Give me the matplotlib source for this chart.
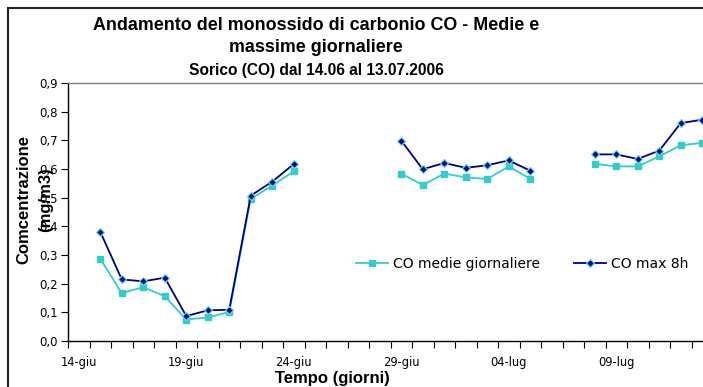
import numpy as np
import matplotlib
matplotlib.use("Agg")
import matplotlib.pyplot as plt
from matplotlib.patches import Rectangle

# Days from 14-giu to 13-lug 2006
days = ["14-giu", "15-giu", "16-giu", "17-giu", "18-giu", "19-giu", "20-giu",
        "21-giu", "22-giu", "23-giu", "24-giu", "25-giu", "26-giu", "27-giu",
        "28-giu", "29-giu", "30-giu", "01-lug", "02-lug", "03-lug", "04-lug",
        "05-lug", "06-lug", "07-lug", "08-lug", "09-lug", "10-lug", "11-lug",
        "12-lug", "13-lug"]
tick_labels = ["14-giu", "19-giu", "24-giu", "29-giu", "04-lug", "09-lug"]

nan = np.nan
co_medie = [nan, 0.287, 0.167, 0.188, 0.156, 0.075, 0.082, 0.101, 0.496, 0.542,
            0.592, nan, nan, nan, nan, 0.584, 0.544, 0.584, 0.571, 0.565,
            0.609, 0.566, nan, nan, 0.618, 0.609, 0.609, 0.644, 0.683, 0.691]
co_max8h = [nan, 0.381, 0.215, 0.208, 0.221, 0.087, 0.107, 0.109, 0.507, 0.556,
            0.617, nan, nan, nan, nan, 0.699, 0.599, 0.621, 0.604, 0.613,
            0.630, 0.594, nan, nan, 0.651, 0.651, 0.635, 0.664, 0.760, 0.772]

W, H = 703, 387
fig = plt.figure(figsize=(W / 100, H / 100), dpi=100)
fig.patch.set_facecolor("white")

# chart frame
fig.patches.append(Rectangle((8 / W, -0.1), 1.2, (H - 8) / H + 0.1,
                             transform=fig.transFigure, fill=False,
                             edgecolor="#222222", linewidth=1.5))

# plot area (runs past the right edge of the canvas)
x0, x1 = 68, 713
ytop, ybot = 83, 341
ax = fig.add_axes([x0 / W, (H - ybot) / H, (x1 - x0) / W, (ybot - ytop) / H])
ax.set_facecolor("white")

x = np.arange(len(days))
ax.plot(x, co_medie, color="#33CCCC", lw=1.3, marker="s", ms=5,
        mfc="#33CCCC", mec="#33CCCC", label="CO medie giornaliere", zorder=3)
ax.plot(x, co_max8h, color="#000080", lw=1.3, marker="D", ms=4.3,
        mfc="#000080", mec="#66DDDD", mew=0.9, label="CO max 8h", zorder=4)

ax.set_xlim(-0.5, len(days) - 0.5)
ax.set_ylim(0, 0.9)

ax.set_yticks(np.arange(0, 0.91, 0.1))
ax.set_yticklabels([f"{v:.1f}".replace(".", ",") for v in np.arange(0, 0.91, 0.1)],
                   fontsize=8.5, family="DejaVu Sans")
ax.tick_params(axis="y", direction="out", length=5, width=0.8, pad=2.5,
               color="black")

major_pos = [days.index(t) for t in tick_labels]
ax.set_xticks(major_pos)
ax.set_xticklabels(tick_labels, fontsize=8.3, family="DejaVu Sans")
ax.tick_params(axis="x", which="major", length=0, pad=11)
ax.set_xticks(np.arange(-0.5, len(days), 1.0), minor=True)
ax.tick_params(axis="x", which="minor", direction="out", length=5, width=0.8,
               color="black")

for side in ("left", "bottom"):
    ax.spines[side].set_color("black")
    ax.spines[side].set_linewidth(1.0)
for side in ("top", "right"):
    ax.spines[side].set_color("#808080")
    ax.spines[side].set_linewidth(1.0)

# titles
title_font = dict(family="Liberation Sans", weight="bold", color="black")
fig.text(316 / W, 1 - 25 / H, "Andamento del monossido di carbonio CO - Medie e",
         ha="center", va="center", fontsize=12.9, **title_font)
fig.text(316 / W, 1 - 48 / H, "massime giornaliere",
         ha="center", va="center", fontsize=12.9, **title_font)
fig.text(316 / W, 1 - 70 / H, "Sorico (CO) dal 14.06 al 13.07.2006",
         ha="center", va="center", fontsize=11.2, **title_font)

# axis titles
fig.text(332 / W, 1 - 378 / H, "Tempo (giorni)", ha="center", va="center",
         fontsize=12, **title_font)
fig.text(24 / W, 1 - 200 / H, "Comcentrazione", ha="center", va="center",
         rotation=90, fontsize=12, **title_font)
fig.text(46 / W, 1 - 200 / H, "(mg/m3)", ha="center", va="center",
         rotation=90, fontsize=12, **title_font)

leg = fig.legend(loc="center left", bbox_to_anchor=(349 / W, 1 - 264 / H),
                 ncol=2, frameon=False, borderpad=0, handlelength=2.3,
                 handletextpad=0.35, columnspacing=2.5,
                 prop=dict(family="DejaVu Sans", size=10))

fig.savefig("out.png", dpi=100)
